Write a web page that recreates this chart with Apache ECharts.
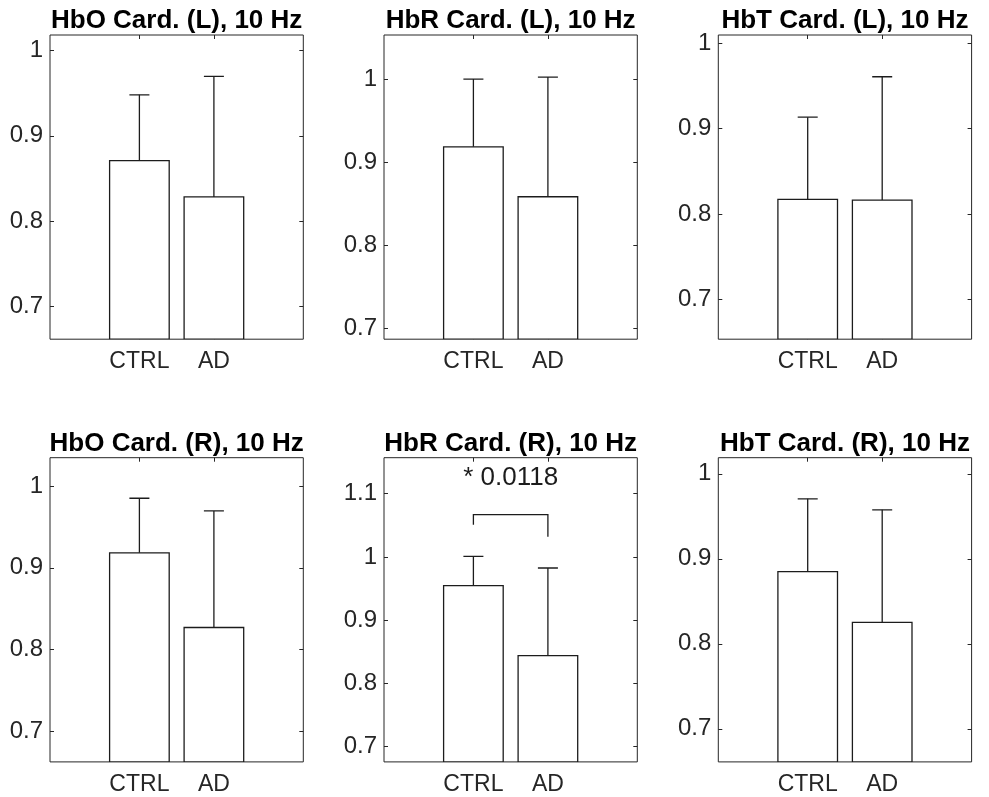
<!DOCTYPE html>
<html><head><meta charset="utf-8">
<script src="https://cdn.jsdelivr.net/npm/echarts@6/dist/echarts.min.js"></script>
<style>html,body{margin:0;padding:0;background:#fff}#c{width:989px;height:797px}</style>
</head><body><div id="c"></div>
<script>
// ---- data ----
const titles = ['HbO Card. (L), 10 Hz','HbR Card. (L), 10 Hz','HbT Card. (L), 10 Hz',
                'HbO Card. (R), 10 Hz','HbR Card. (R), 10 Hz','HbT Card. (R), 10 Hz'];
const categories = ['CTRL','AD'];
const catX = [1, 2];
const meanHbO_L = [0.871, 0.8285];  const sdHbO_L = [0.077, 0.1411];
const meanHbR_L = [0.9185, 0.8584]; const sdHbR_L = [0.0815, 0.144];
const meanHbT_L = [0.817, 0.8163];  const sdHbT_L = [0.0966, 0.1447];
const meanHbO_R = [0.9183, 0.8268]; const sdHbO_R = [0.067, 0.1429];
const meanHbR_R = [0.9547, 0.844];  const sdHbR_R = [0.0463, 0.1386];
const meanHbT_R = [0.885, 0.8253];  const sdHbT_R = [0.0856, 0.1323];
const yRanges = [[0.662,1.018],[0.687,1.053],[0.653,1.010],[0.662,1.035],[0.676,1.157],[0.661,1.019]];
const yTicks4 = [0.7, 0.8, 0.9, 1];
const yTicks5 = [0.7, 0.8, 0.9, 1, 1.1];
const xRange = [-0.2, 3.2];
// significance annotation (panel 5)
const sigPanel = 4;
const sigText = '* 0.0118';
const sigBracketY = 1.067;
const sigLegEnds = [1.051, 1.032];
const sigTextY = 1.125;

const means = [meanHbO_L, meanHbR_L, meanHbT_L, meanHbO_R, meanHbR_R, meanHbT_R];
const sds = [sdHbO_L, sdHbR_L, sdHbT_L, sdHbO_R, sdHbR_R, sdHbT_R];
const yTicks = [yTicks4, yTicks4, yTicks4, yTicks4, yTicks5, yTicks4];

// ---- layout ----
const FONT = '"Liberation Sans", Arial, Helvetica, sans-serif';
const INK = '#262626';
const colLeft = [50, 384, 718.3];
const rowTop = [35, 457.7];
const gW = 253.3, gH = 304.2;
const barHalf = 0.4;

const grids = [], xAxes = [], yAxes = [], series = [], graphics = [];
for (let i = 0; i < 6; i++) {
  const c = i % 3, r = Math.floor(i / 3);
  grids.push({left: colLeft[c], top: rowTop[r], width: gW, height: gH,
    show: true, borderColor: INK, borderWidth: 1, backgroundColor: 'transparent'});
  const yr = yRanges[i];
  const xBase = {type: 'value', gridIndex: i, min: xRange[0], max: xRange[1],
    axisLine: {show: false, onZero: false}, splitLine: {show: false}};
  xAxes.push(Object.assign({}, xBase, {position: 'bottom',
    axisTick: {show: true, inside: true, length: 4, customValues: catX, lineStyle: {color: INK}},
    axisLabel: {show: true, customValues: catX, margin: 11, color: INK, fontSize: 23, fontFamily: FONT,
      formatter: v => categories[catX.indexOf(Math.round(v))] || ''}}));
  xAxes.push(Object.assign({}, xBase, {position: 'top',
    axisTick: {show: true, inside: true, length: 4, customValues: catX, lineStyle: {color: INK}},
    axisLabel: {show: false}}));
  const yBase = {type: 'value', gridIndex: i, min: yr[0], max: yr[1],
    axisLine: {show: false, onZero: false}, splitLine: {show: false}};
  yAxes.push(Object.assign({}, yBase, {position: 'left',
    axisTick: {show: true, inside: true, length: 4, customValues: yTicks[i], lineStyle: {color: INK}},
    axisLabel: {show: true, customValues: yTicks[i], margin: 7, color: INK, fontSize: 24, fontFamily: FONT,
      formatter: v => String(+(+v).toFixed(2))}}));
  yAxes.push(Object.assign({}, yBase, {position: 'right',
    axisTick: {show: true, inside: true, length: 4, customValues: yTicks[i], lineStyle: {color: INK}},
    axisLabel: {show: false}}));

  const yMin = yr[0];
  const data = catX.map((x, k) => [x, means[i][k], sds[i][k]]);
  series.push({
    type: 'custom', xAxisIndex: 2 * i, yAxisIndex: 2 * i, data: data, clip: true,
    renderItem: function (params, api) {
      const x = api.value(0), m = api.value(1), sd = api.value(2);
      const p0 = api.coord([x - barHalf, m]);
      const p1 = api.coord([x + barHalf, yMin]);
      const base = api.coord([x, m]);
      const top = api.coord([x, m + sd]);
      const st = {stroke: '#1c1c1c', lineWidth: 1.3, fill: null};
      return {type: 'group', children: [
        {type: 'rect', shape: {x: p0[0], y: p0[1], width: p1[0] - p0[0], height: p1[1] - p0[1]},
          style: {fill: '#fff', stroke: '#1c1c1c', lineWidth: 1.3}},
        {type: 'line', shape: {x1: base[0], y1: base[1], x2: top[0], y2: top[1]}, style: st},
        {type: 'line', shape: {x1: top[0] - 10, y1: top[1], x2: top[0] + 10, y2: top[1]}, style: st}
      ]};
    }
  });

  graphics.push({type: 'text', x: colLeft[c] + gW / 2, y: r === 0 ? 21 : 444,
    style: {text: titles[i], textAlign: 'center', textVerticalAlign: 'middle',
      font: 'bold 26px ' + FONT, fill: '#000'}});
}

// significance bracket
series.push({
  type: 'custom', xAxisIndex: 2 * sigPanel, yAxisIndex: 2 * sigPanel,
  data: [[catX[0], catX[1], sigBracketY, sigLegEnds[0], sigLegEnds[1], sigTextY]],
  renderItem: function (params, api) {
    const xa = api.value(0), xb = api.value(1), yb = api.value(2);
    const a0 = api.coord([xa, api.value(3)]), a1 = api.coord([xa, yb]);
    const b1 = api.coord([xb, yb]), b0 = api.coord([xb, api.value(4)]);
    const t = api.coord([(xa + xb) / 2, api.value(5)]);
    return {type: 'group', children: [
      {type: 'polyline', shape: {points: [a0, a1, b1, b0]}, style: {stroke: '#1c1c1c', lineWidth: 1.3, fill: null}},
      {type: 'text', x: t[0], y: t[1], style: {text: sigText, textAlign: 'center', textVerticalAlign: 'middle',
        font: '26px ' + FONT, fill: '#1c1c1c'}}
    ]};
  }
});

const chart = echarts.init(document.getElementById('c'), null, {renderer: 'canvas'});
chart.setOption({
  backgroundColor: '#fff', animation: false,
  grid: grids, xAxis: xAxes, yAxis: yAxes, series: series, graphic: graphics
});
</script></body></html>
